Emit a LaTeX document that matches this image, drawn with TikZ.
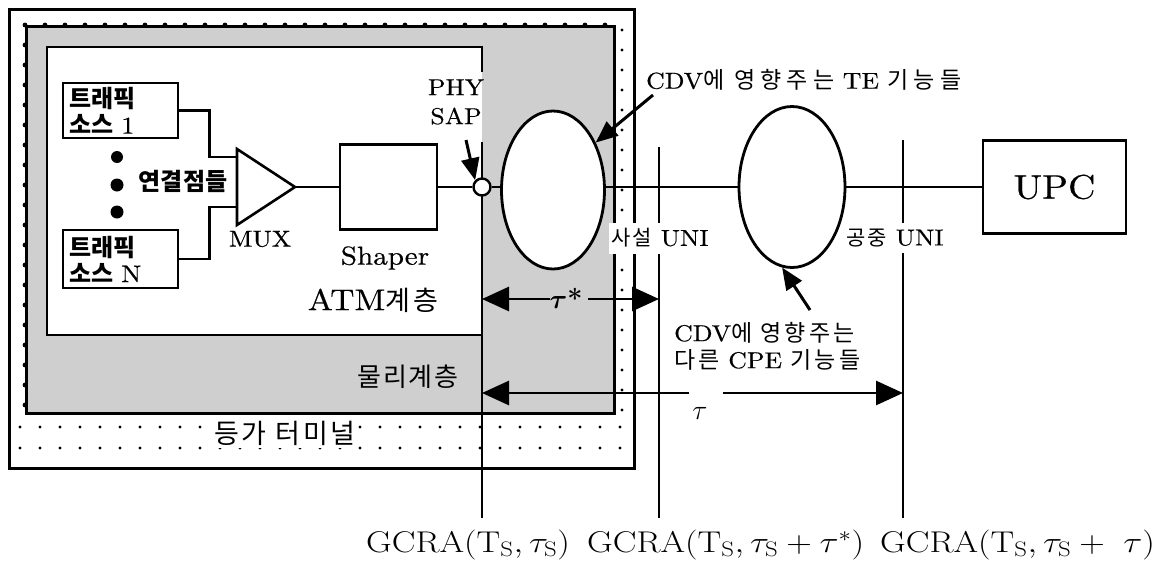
\RequirePackage{fix-cm}
\documentclass[tikz,border=0pt]{standalone}
\usepackage{amsmath}
\usepackage{fontspec}
\newfontfamily\kr{Noto Sans CJK KR}
\newfontfamily\lmw{lmroman10-regular.otf}[FakeStretch=1.12,FakeBold=0.4]
\usetikzlibrary{arrows.meta,shapes.geometric}
\definecolor{physgray}{gray}{0.81}
\newcommand\wf[2]{\lmw\fontsize{#1}{#2}\selectfont}
\newcommand\ks[2]{\kr\fontsize{#1}{#1}\selectfont\addfontfeatures{LetterSpace=#2}}
\tikzset{
  thickl/.style={line width=2.6pt},
  thinl/.style={line width=1.3pt},
  box/.style={draw, line width=2.8pt, fill=white, inner sep=0pt},
  dimarrow/.style={line width=2.8pt, -{Triangle[length=27pt,width=24pt]}},
  ptr/.style={line width=3pt, -{Triangle[length=22pt,width=18pt]}},
  srcbox/.style={box, minimum width=115pt, text width=103pt, inner xsep=6pt, align=left,
    font=\kr\bfseries\fontsize{24}{26}\selectfont},
  lbl/.style={inner sep=1pt, font=\wf{23}{27}},
  wlbl/.style={lbl, fill=white, inner xsep=2pt, inner ysep=6pt},
  gcra/.style={inner sep=0pt, anchor=base west, font=\fontsize{30}{30}\selectfont},
  bead/.style={fill=black},
}
\begin{document}
\begin{tikzpicture}[x=1pt,y=-1pt]
\useasboundingbox (0,0) rectangle (1160,565);
% equivalent terminal
\node[box, line width=2.6pt, minimum width=625pt, minimum height=459pt, anchor=north west] (term) at (8,8) {};
\foreach \x in {20,40,...,620} {\fill (\x,427) circle (1.6pt); \fill (\x,448) circle (1.6pt);}
\foreach \y in {30,50,...,410} {\fill (622,\y) circle (1.6pt);}
% physical layer
\node[draw, line width=2.6pt, fill=physgray, minimum width=588pt, minimum height=387pt,
  anchor=north west, inner sep=0pt] (phys) at (25,25) {};
\foreach \x in {25,45,...,605} {\fill[bead] (\x,25) circle (2.4pt);}
\foreach \y in {45,65,...,405} {\fill[bead] (25,\y) circle (2.4pt);}
% ATM layer
\node[fill=white, minimum width=435pt, minimum height=288pt, anchor=north west, inner sep=0pt] (atm) at (47,47) {};
\draw[line width=2.8pt] (482,72) -- (482,47) -- (47,47) -- (47,335) -- (482,335);
% reference lines
\coordinate (g1t) at (482,142); \coordinate (g1m) at (482,412); \coordinate (g1b) at (482,518);
\coordinate (g2t) at (659,147); \coordinate (g2b) at (659,518);
\coordinate (g3t) at (903,140); \coordinate (g3b) at (903,518);
\draw[thinl] (g1t) -- (g1b);
\draw[line width=2.8pt] (g1t) -- (g1m);
\draw[thinl] (g2t) -- (g2b);
\draw[thinl] (g3t) -- (g3b);
% sources
\node[srcbox, minimum height=55pt] (src1) at (120.5,110.5) {트래픽\\소스 {\wf{24}{26}1}};
\node[srcbox, minimum height=58pt] (srcN) at (120.5,259) {트래픽\\소스 {\wf{24}{26}N}};
\fill (117,157) circle (6pt);
\fill (117,185) circle (6.5pt);
\fill (117,212) circle (6.5pt);
\node[inner sep=0pt, font=\kr\bfseries\fontsize{24}{24}\selectfont] (conn) at (183,181) {연결점들};
% MUX
\coordinate (m1) at (237,149); \coordinate (m2) at (237,225); \coordinate (muxtip) at (295,187);
\coordinate (muxin1) at (237,157); \coordinate (muxin2) at (237,207);
\draw[line width=2.6pt, line join=miter] (m1) -- (muxtip) -- (m2) -- cycle;
\draw[thickl] (src1.east) -- ++(30,0) |- (muxin1);
\draw[thickl] (srcN.east) -- ++(30,0) |- (muxin2);
\node[lbl] (muxlbl) at (260,239) {MUX};
% shaper
\node[box, minimum width=97pt, minimum height=85pt] (shaper) at (388.5,187) {};
\node[lbl, font=\wf{26}{26}] (shaperlbl) at (385,258) {Shaper};
% PHY SAP
\node[circle, draw, line width=2.4pt, fill=white, minimum size=17pt, inner sep=0pt] (sap) at (482,187) {};
\node[lbl, align=center, font=\wf{23}{29}] (saplbl) at (456,102) {PHY\\SAP};
\coordinate (sapfrom) at (466,140);
% ellipses and UPC
\node[ellipse, draw, line width=2.8pt, fill=white, minimum width=103pt, minimum height=158pt, inner sep=0pt] (e1) at (553,190) {};
\node[ellipse, draw, line width=2.8pt, fill=white, minimum width=106pt, minimum height=161pt, inner sep=0pt] (e2) at (792,187) {};
\node[box, minimum width=143pt, minimum height=93pt, font=\wf{34}{34}] (upc) at (1054.5,187) {UPC};
% main line
\draw[thickl] (muxtip) -- (shaper.west);
\draw[thickl] (shaper.east) -- (sap.west);
\draw[thickl] (sap.east) -- (sap.east -| e1.west);
\draw[thickl] (e1.east |- sap.east) -- (e2.west |- sap.east);
\draw[thickl] (e2.east |- sap.east) -- (upc.west |- sap.east);
\draw[ptr] (sapfrom) -- (sap.north west);
% layer labels
\node[inner sep=0pt, font=\wf{30}{30}] (atmlbl) at (373,300) {ATM{\ks{27}{12}계층}};
\node[inner sep=0pt, font=\ks{26}{6}] (physlbl) at (408,377) {물리계층};
\node[fill=white, inner xsep=2pt, inner ysep=3pt, font=\ks{27}{10}] (termlbl) at (285,433) {등가 터미널};
% UNI labels
\node[wlbl] (puni) at (660,238) {{\ks{21}{10}사설} UNI};
\node[wlbl] (cuni) at (895,238) {{\ks{21}{10}공중} UNI};
% CDV labels and pointers
\node[lbl, anchor=west] (tecdv) at (645,80) {CDV{\ks{23}{22}에 영향주는} TE {\ks{23}{22}기능들}};
\coordinate (tefrom) at (653,95);
\draw[ptr] (tefrom) -- (e1.48);
\node[lbl, anchor=west, align=left] (cpecdv) at (673,346) {CDV{\ks{23}{14}에 영향주는}\\{\ks{23}{14}다른} CPE {\ks{23}{14}기능들}};
\coordinate (cpefrom) at (810,310);
\draw[ptr] (cpefrom) -- (e2.263);
% tau* dimension
\node[inner sep=1pt, font=\fontsize{27}{27}\selectfont] (tstar) at (566,298) {$\boldsymbol{\tau}$\textbf{*}};
\coordinate (ts1) at (482,299); \coordinate (ts2) at (659,299);
\coordinate (tsa) at (550,299); \coordinate (tsb) at (588,299);
\draw[dimarrow] (tsa) -- (ts1);
\draw[dimarrow] (tsb) -- (ts2);
% tau dimension
\node[inner sep=1pt, font=\fontsize{28}{28}\selectfont] (tau) at (700,413) {$\tau$};
\coordinate (t1) at (482,393); \coordinate (t2) at (903,393);
\coordinate (ta) at (689,393); \coordinate (tb) at (723,393);
\draw[dimarrow] (ta) -- (t1);
\draw[dimarrow] (tb) -- (t2);
% GCRA labels
\node[gcra] (gc1) at (366,552) {\scalebox{1.18}[1]{GCRA$(\mathrm{T}_{\mathrm{S}},\tau_{\mathrm{S}})$}};
\node[gcra] (gc2) at (587,552) {\scalebox{1.18}[1]{GCRA$(\mathrm{T}_{\mathrm{S}},\tau_{\mathrm{S}}+\tau^{*})$}};
\node[gcra] (gc3) at (880,552) {\scalebox{1.18}[1]{GCRA$(\mathrm{T}_{\mathrm{S}},\tau_{\mathrm{S}}+\ \tau)$}};
\end{tikzpicture}
\end{document}
